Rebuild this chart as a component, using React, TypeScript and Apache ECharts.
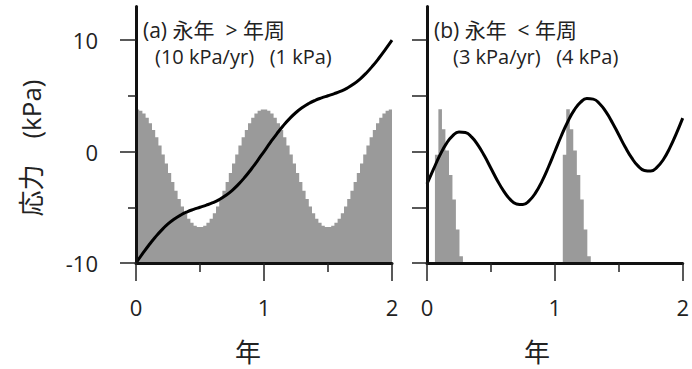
import React, { useEffect, useRef } from "react";
import * as echarts from "echarts";

// ---- data ----
const timeYears = [
  0, 0.05, 0.1, 0.15, 0.2, 0.25, 0.3, 0.35, 0.4, 0.45, 0.5, 0.55, 0.6, 0.65, 0.7, 0.75, 0.8, 0.85, 0.9, 0.95,
  1.0, 1.05, 1.1, 1.15, 1.2, 1.25, 1.3, 1.35, 1.4, 1.45, 1.5, 1.55, 1.6, 1.65, 1.7, 1.75, 1.8, 1.85, 1.9, 1.95, 2.0,
];
// (a) secular 10 kPa/yr + annual 1 kPa
const stressA = [
  -10, -9.19, -8.41, -7.69, -7.05, -6.5, -6.05, -5.69, -5.41, -5.19, -5.0, -4.81, -4.59, -4.31, -3.95, -3.5, -2.95,
  -2.31, -1.59, -0.81, 0, 0.81, 1.59, 2.31, 2.95, 3.5, 3.95, 4.31, 4.59, 4.81, 5.0, 5.19, 5.41, 5.69, 6.05, 6.5,
  7.05, 7.69, 8.41, 9.19, 10,
];
// (b) secular 3 kPa/yr + annual 4 kPa
const stressB = [
  -2.9, -1.61, -0.35, 0.69, 1.4, 1.75, 1.7, 1.29, 0.55, -0.41, -1.5, -2.59, -3.55, -4.29, -4.7, -4.75, -4.4, -3.69,
  -2.65, -1.39, 0, 1.39, 2.65, 3.69, 4.4, 4.75, 4.7, 4.29, 3.55, 2.59, 1.5, 0.41, -0.55, -1.29, -1.7, -1.75, -1.4,
  -0.69, 0.35, 1.61, 3.0,
];
// (a) seismicity-rate histogram (plotted on stress scale, base -10), bins of 0.025 yr
const histABinWidth = 0.025;
const histAValues = [
  3.78, 3.65, 3.4, 3.02, 2.53, 1.94, 1.27, 0.53, -0.26, -1.08, -1.92, -2.74, -3.53, -4.27, -4.94, -5.53, -6.02, -6.4,
  -6.65, -6.78, -6.78, -6.65, -6.4, -6.02, -5.53, -4.94, -4.27, -3.53, -2.74, -1.92, -1.08, -0.26, 0.53, 1.27, 1.94,
  2.53, 3.02, 3.4, 3.65, 3.78,
  3.78, 3.65, 3.4, 3.02, 2.53, 1.94, 1.27, 0.53, -0.26, -1.08, -1.92, -2.74, -3.53, -4.27, -4.94, -5.53, -6.02, -6.4,
  -6.65, -6.78, -6.78, -6.65, -6.4, -6.02, -5.53, -4.94, -4.27, -3.53, -2.74, -1.92, -1.08, -0.26, 0.53, 1.27, 1.94,
  2.53, 3.02, 3.4, 3.65, 3.78,
];
// (b) histogram bin left edges (yr) and heights
const histBEdges = [
  0.062, 0.089, 0.117, 0.144, 0.172, 0.199, 0.226, 0.254, 0.281,
  1.062, 1.089, 1.117, 1.144, 1.172, 1.199, 1.226, 1.254, 1.281,
];
const histBValues = [
  -0.3, 3.8, 2.0, 0.1, -2.1, -4.3, -7.0, -9.4, -10,
  -0.3, 3.8, 2.0, 0.1, -2.1, -4.3, -7.0, -9.4, -10,
];
const yMajorTicksA = [-10, 0, 10];
const yMinorTicksA = [-5, 5];
const yTicksB = [-10, -5, 0, 5, 10];
const titleA1 = "(a) 永年  > 年周";
const titleA2 = "(10 kPa/yr)   (1 kPa)";
const titleB1 = "(b) 永年  < 年周";
const titleB2 = "(3 kPa/yr)   (4 kPa)";
const xName = "年";
const yName = "応力　(kPa)";

const FONT = "'Open Sans', 'Noto Sans CJK JP', sans-serif";
const INK = "#222";
const GRAY = "#9a9a9a";

export default function App() {
  const ref = useRef<HTMLDivElement>(null);
  useEffect(() => {
    if (!ref.current) return;
    const chart = echarts.init(ref.current, undefined, { renderer: "svg" });

    const histAData: number[][] = histAValues.map((v, i) => [i * histABinWidth, v]);
    histAData.push([histAValues.length * histABinWidth, histAValues[histAValues.length - 1]]);
    const histBData = histBEdges.map((e, i) => [e, histBValues[i]]);
    const lineA = timeYears.map((t, i) => [t, stressA[i]]);
    const lineB = timeYears.map((t, i) => [t, stressB[i]]);

    const xAxisBase = (gridIndex: number) => ({
      gridIndex,
      type: "value",
      min: 0,
      max: 2,
      interval: 1,
      z: 10,
      axisLine: { show: true, onZero: false, lineStyle: { color: "#111", width: 3 } },
      axisTick: { show: true, length: 18, lineStyle: { color: INK, width: 1.5 } },
      minorTick: { show: true, splitNumber: 2, length: 9, lineStyle: { color: INK, width: 1.5 } },
      splitLine: { show: false },
      minorSplitLine: { show: false },
      axisLabel: { margin: 33, fontSize: 22, color: INK, fontFamily: FONT },
    });

    const option: any = {
      animation: false,
      grid: [
        { left: 136, top: 6.6, width: 256, height: 256.4 },
        { left: 427, top: 6.6, width: 256, height: 256.4 },
      ],
      xAxis: [xAxisBase(0), xAxisBase(1)],
      yAxis: [
        {
          gridIndex: 0,
          type: "value",
          position: "left",
          min: -10,
          max: 13,
          interval: 10,
          z: 10,
          axisLine: { show: true, onZero: false, lineStyle: { color: "#111", width: 3 } },
          axisTick: { show: true, length: 16, customValues: yMajorTicksA, lineStyle: { color: INK, width: 1.5 } },
          axisLabel: { customValues: yMajorTicksA, margin: 38, fontSize: 22, color: INK, fontFamily: FONT },
          splitLine: { show: false },
        },
        {
          gridIndex: 0,
          type: "value",
          position: "left",
          min: -10,
          max: 13,
          z: 10,
          axisLine: { show: false },
          axisTick: { show: true, length: 8, customValues: yMinorTicksA, lineStyle: { color: INK, width: 1.5 } },
          axisLabel: { show: false },
          splitLine: { show: false },
        },
        {
          gridIndex: 1,
          type: "value",
          position: "left",
          min: -10,
          max: 13,
          z: 10,
          axisLine: { show: true, onZero: false, lineStyle: { color: "#111", width: 3 } },
          axisTick: { show: true, length: 15, customValues: yTicksB, lineStyle: { color: INK, width: 1.5 } },
          axisLabel: { show: false },
          splitLine: { show: false },
        },
      ],
      series: [
        {
          type: "line",
          xAxisIndex: 0,
          yAxisIndex: 0,
          data: histAData,
          step: "end",
          symbol: "none",
          lineStyle: { width: 0, opacity: 0 },
          areaStyle: { color: GRAY, opacity: 1, origin: "start" },
          z: 1,
        },
        {
          type: "line",
          xAxisIndex: 0,
          yAxisIndex: 0,
          data: lineA,
          smooth: true,
          symbol: "none",
          lineStyle: { color: "#000", width: 3 },
          z: 3,
        },
        {
          type: "line",
          xAxisIndex: 1,
          yAxisIndex: 2,
          data: histBData,
          step: "end",
          symbol: "none",
          lineStyle: { width: 0, opacity: 0 },
          areaStyle: { color: GRAY, opacity: 1, origin: "start" },
          z: 1,
        },
        {
          type: "line",
          xAxisIndex: 1,
          yAxisIndex: 2,
          data: lineB,
          smooth: true,
          symbol: "none",
          lineStyle: { color: "#000", width: 3 },
          z: 3,
        },
      ],
      graphic: [
        { type: "text", x: 143, y: 30, style: { text: titleA1, font: `21px ${FONT}`, fill: INK, textVerticalAlign: "middle" }, z: 20 },
        { type: "text", x: 155, y: 56, style: { text: titleA2, font: `20px ${FONT}`, fill: INK, textVerticalAlign: "middle" }, z: 20 },
        { type: "text", x: 434, y: 30, style: { text: titleB1, font: `21px ${FONT}`, fill: INK, textVerticalAlign: "middle" }, z: 20 },
        { type: "text", x: 453, y: 56, style: { text: titleB2, font: `20px ${FONT}`, fill: INK, textVerticalAlign: "middle" }, z: 20 },
        { type: "text", x: 248, y: 352, style: { text: xName, font: `26px ${FONT}`, fill: INK, textAlign: "center", textVerticalAlign: "middle" } },
        { type: "text", x: 537, y: 352, style: { text: xName, font: `26px ${FONT}`, fill: INK, textAlign: "center", textVerticalAlign: "middle" } },
        {
          type: "text",
          x: 31,
          y: 148,
          rotation: Math.PI / 2,
          style: { text: yName, font: `26px ${FONT}`, fill: INK, textAlign: "center", textVerticalAlign: "middle" },
        },
      ],
    };
    chart.setOption(option);
    return () => chart.dispose();
  }, []);
  return (
    <div
      ref={ref}
      style={{ position: "fixed", left: 0, top: 0, width: 692, height: 369, background: "#fff" }}
    />
  );
}
